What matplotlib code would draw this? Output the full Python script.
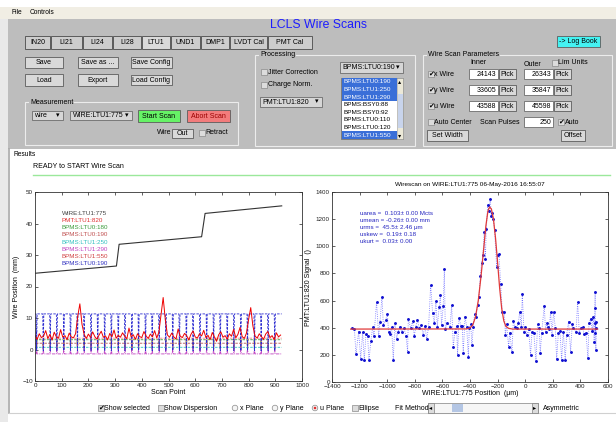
import numpy as np
import matplotlib.pyplot as plt
from matplotlib.patches import Rectangle, Circle

plt.rcParams['font.family'] = ['Liberation Sans', 'DejaVu Sans']

W, H = 616, 422
PANEL = '#bdbdbd'

# ---------------- data ----------------
# left plot: wire position (breakpoints of the staircase)
wire_x = [0, 305, 315, 624, 637, 924]
wire_y = [24.2, 26.5, 33.4, 35.8, 43.2, 45.6]

# PMT:LTU1:820 sampled every 8 scan points
pmt_y = [4.5, 3.2, 5.0, 3.8, 4.2, 6.0, 3.5, 4.8, 3.0, 5.5,
         4.0, 3.6, 6.3, 3.9, 4.4, 3.1, 5.2, 4.0, 3.7, 5.0,
         10.5, 14.5, 8.0, 4.8, 3.5, 4.9, 3.8, 5.6, 4.1, 3.3,
         4.6, 5.8, 3.9, 4.3, 3.0, 5.1, 4.0, 6.2, 3.6, 4.5,
         3.9, 5.3, 4.2, 3.4, 6.8, 4.0, 4.7, 3.2, 5.0, 4.1,
         3.8, 5.7, 4.3, 3.5, 4.9, 4.0, 6.0, 3.7, 5.5, 11.0,
         16.5, 9.5, 4.6, 3.9, 5.2, 4.0, 3.3, 6.5, 4.2, 3.8,
         5.1, 4.4, 3.0, 4.8, 5.9, 4.0, 3.6, 5.0, 4.3, 6.1,
         3.8, 4.5, 3.1, 5.4, 4.0, 2.6, 4.7, 5.6, 3.9, 4.4,
         3.3, 5.0, 4.2, 6.4, 3.7, 4.8, 7.0, 4.1, 3.5, 5.2,
         9.5, 13.3, 7.5, 4.3, 3.6, 5.0, 4.1, 3.2, 4.9, 5.7,
         3.8, 4.4, 3.1, 5.3, 4.0, 4.6]
pmt_step = 8

# scan points where the BPMs drop out
scan_dips = [6, 31, 57, 82, 108, 133, 159, 184, 210, 235, 261, 286, 312, 337,
             363, 388, 414, 439, 465, 490, 516, 541, 567, 592, 618, 643, 669,
             694, 720, 745, 771, 796, 822, 847, 873, 898]

bpm_labels = ['BPMS:LTU0:180', 'BPMS:LTU0:190', 'BPMS:LTU1:250',
              'BPMS:LTU1:290', 'BPMS:LTU1:550', 'BPMS:LTU0:190']
bpm_base = [3.1, 2.0, 0.7, -1.4, 3.6, 11.3]
bpm_low = [0.6, 0.2, 0.0, 0.8, 0.5, -0.4]

# right plot: PMT signal vs wire position
scan_pos = [-1258, -1238, -1226, -1207, -1192, -1178, -1166, -1154, -1142, -1132,
            -1118, -1105, -1096, -1077, -1062, -1052, -1038, -1028, -1011, -999,
            -990, -980, -968, -956, -944, -932, -920, -908, -895, -879,
            -864, -852, -847, -830, -816, -804, -792, -782, -767, -755,
            -739, -726, -714, -700, -685, -671, -659, -647, -637, -623,
            -615, -606, -594, -586, -579, -565, -545, -533, -521, -509,
            -497, -490, -480, -466, -456, -449, -436, -424, -412, -405,
            -395, -386, -376, -367, -357, -345, -335, -325, -316, -306,
            -297, -289, -282, -272, -263, -253, -246, -239, -231, -222,
            -207, -198, -190, -178, -166, -151, -144, -135, -120, -111,
            -96, -86, -74, -62, -50, -40, -28, -21, -9, 0,
            12, 25, 39, 49, 63, 78, 90, 102, 109, 119,
            138, 148, 155, 165, 174, 184, 194, 206, 218, 228,
            240, 252, 264, 276, 290, 300, 314, 329, 341, 348,
            368, 380, 392, 401, 416, 426, 440, 455, 462, 474,
            486, 493, 500, 503, 505, 507, 508, 510, 512, 514]
pmt_signal = [396, 393, 204, 371, 172, 366, 162, 351, 339, 162,
              302, 408, 339, 590, 339, 445, 629, 420, 457, 501,
              371, 354, 408, 162, 432, 319, 371, 408, 369, 398,
              342, 224, 467, 396, 447, 342, 408, 457, 396, 420,
              349, 413, 314, 408, 715, 506, 432, 600, 408, 555,
              641, 418, 560, 830, 388, 437, 405, 565, 260, 371,
              413, 199, 474, 415, 415, 211, 482, 408, 187, 400,
              430, 270, 408, 501, 482, 565, 624, 784, 875, 934,
              1103, 904, 1125, 1307, 1263, 1351, 1226, 1243, 1201, 1120,
              850, 939, 941, 722, 518, 518, 346, 427, 260, 364,
              219, 450, 408, 396, 432, 518, 408, 649, 371, 403,
              346, 388, 199, 366, 359, 157, 425, 396, 211, 359,
              563, 371, 432, 403, 391, 518, 346, 518, 400, 167,
              359, 378, 162, 371, 162, 346, 445, 224, 427, 400,
              366, 587, 359, 396, 408, 354, 364, 174, 432, 467,
              378, 482, 297, 432, 543, 666, 359, 445, 236, 400]

fit_x = [-1265, -430, -400, -380, -360, -340, -320, -300, -285, -270, -258,
         -245, -230, -215, -200, -185, -170, -155, -140, -120, -90, 525]
fit_y = [390, 391, 398, 420, 480, 600, 780, 990, 1150, 1260, 1290,
         1275, 1200, 1060, 880, 690, 540, 450, 410, 395, 390, 390]

fit_stats = ['uarea =  0.103\u00b1 0.00 Mcts',
             'umean = -0.26\u00b1 0.00 mm',
             'urms =  45.5\u00b1 2.46 \u03bcm',
             'uskew =  0.19\u00b1 0.18',
             'ukurt =  0.03\u00b1 0.00']

tabs = ['IN20', 'LI21', 'LI24', 'LI28', 'LTU1', 'UND1', 'DMP1', 'LVDT Cal', 'PMT Cal']
list_items = ['BPMS:LTU0:190', 'BPMS:LTU1:250', 'BPMS:LTU1:290', 'BPMS:BSY0:88',
              'BPMS:BSY0:92', 'BPMS:LTU0:110', 'BPMS:LTU0:120', 'BPMS:LTU1:550']
list_selected = [True, True, True, False, False, False, False, True]
wire_names = ['x Wire', 'y Wire', 'u Wire']
inner_vals = ['24143', '33605', '43588']
outer_vals = ['26343', '35847', '45598']

# ---------------- GUI background ----------------
fig = plt.figure(figsize=(W / 100, H / 100), dpi=100)
bg = fig.add_axes([0, 0, 1, 1])
bg.set_xlim(0, W)
bg.set_ylim(H, 0)
bg.axis('off')


def box(x0, y0, x1, y1, fc, ec='none', lw=0.6, z=1):
    bg.add_patch(Rectangle((x0, y0), x1 - x0, y1 - y0, facecolor=fc,
                           edgecolor=ec, linewidth=lw, zorder=z))


def txt(x, y, s, size=5, color='black', ha='left', **kw):
    bg.text(x, y, s, fontsize=size, color=color, ha=ha, va='center', zorder=6, **kw)


def button(x0, y0, x1, y1, label, fc='#d9d9d9', color='black'):
    box(x0, y0, x1, y1, fc, '#5c5c5c', 0.6, 3)
    txt((x0 + x1) / 2, (y0 + y1) / 2, label, color=color, ha='center')


def check(x, y, label, on=False):
    box(x, y - 2.8, x + 5.6, y + 2.8, '#dcdcdc', '#8a8a8a', 0.5, 3)
    if on:
        txt(x + 2.8, y, '\u2714', size=5, ha='center')
    txt(x + 6.5, y, label)


def radio(x, y, label, on=False):
    bg.add_patch(Circle((x, y), 2.8, fc='#f4f4f4', ec='#8a8a8a', lw=0.5, zorder=3))
    if on:
        bg.add_patch(Circle((x, y), 1.3, fc='#e03030', ec='none', zorder=4))
    txt(x + 5, y, label)


def group(x0, y0, x1, y1, label, fc=PANEL):
    box(x0, y0, x1, y1, 'none', '#ececec', 0.8, 2)
    txt(x0 + 5, y0, label, bbox=dict(fc=fc, ec='none', pad=0.6))


def combo(x0, y0, x1, y1, label):
    box(x0, y0, x1, y1, '#d6d6d6', '#6c6c6c', 0.6, 3)
    txt(x0 + 2.5, (y0 + y1) / 2, label)
    txt(x1 - 5, (y0 + y1) / 2, '\u25be', ha='center')


def entry(x0, y0, x1, y1, value):
    box(x0, y0, x1, y1, 'white', '#6c6c6c', 0.6, 3)
    txt(x1 - 2, (y0 + y1) / 2, value, ha='right')


box(0, 0, W, H, 'white', z=0)
box(0, 7, W, 19, '#f1eee4')
txt(12, 13, 'File', 4.8)
txt(30, 13, 'Controls', 4.8)
box(0, 19, 8, H, '#e9e9e9')
box(8, 19, W, 149, PANEL)

txt(318, 25, 'LCLS Wire Scans', 8.8, color='#1c1cff', ha='center')

tab_edges = [25, 51, 83, 113, 142, 171, 201, 230, 268, 313]
for i, t in enumerate(tabs):
    box(tab_edges[i], 36, tab_edges[i + 1] - 1, 49,
        '#dadada' if t == 'LTU1' else '#cdcdcd', '#4a4a4a', 0.6, 3)
    txt((tab_edges[i] + tab_edges[i + 1] - 1) / 2, 42.5, t, ha='center')

button(557, 36, 600, 47, '-> Log Book', fc='#44f2f2')

button(25, 57, 63, 68, 'Save')
button(78, 57, 118, 68, 'Save as ...')
button(131, 57, 172, 68, 'Save Config')
button(25, 74, 63, 86, 'Load')
button(78, 74, 118, 86, 'Export')
button(131, 75, 172, 85, 'Load Config')

group(25, 102, 238, 145, 'Measurement')
combo(32, 111, 63, 120, 'wire')
combo(70, 111, 132, 120, 'WIRE:LTU1:775')
button(138, 110, 180, 122, 'Start Scan', fc='#66f266')
button(187, 110, 230, 122, 'Abort Scan', fc='#f27c7c', color='#9a0000')
txt(157, 133, 'Wire')
button(172, 129, 193, 138, 'Out')
check(199, 133, 'Retract')

group(255, 55, 415, 146, 'Processing')
check(261, 72, 'Jitter Correction')
check(261, 85, 'Charge Norm.')
combo(260, 97, 322, 107, 'PMT:LTU1:820')
combo(340, 62, 403, 73, 'BPMS:LTU0:190')
box(341, 78, 403, 139, 'white', '#6c6c6c', 0.6, 3)
row_h = (139 - 78) / len(list_items)
for i, (item, sel) in enumerate(zip(list_items, list_selected)):
    y0 = 78 + i * row_h
    if sel:
        box(342, y0, 397, y0 + row_h, '#3a6fd8', z=4)
    txt(343, y0 + row_h / 2, item, 4.6, color='white' if sel else 'black')
box(397, 78, 403, 139, '#ece9d8', '#9a9a9a', 0.4, 5)
box(397.5, 94, 402.5, 128, '#c8d4ec', 'none', z=5)
txt(400, 81.5, '\u25b4', 4.5, ha='center')
txt(400, 135.5, '\u25be', 4.5, ha='center')

group(423, 55, 612, 146, 'Wire Scan Parameters')
txt(470, 63, 'Inner')
txt(524, 64.5, 'Outer')
check(552, 63, 'Lim Units')
for name, vin, vout, y in zip(wire_names, inner_vals, outer_vals, [74, 90, 106]):
    check(428, y, name, True)
    entry(469, y - 5, 498, y + 5, vin)
    button(499, y - 5, 516, y + 5, 'Pick')
    entry(524, y - 5, 553, y + 5, vout)
    button(554, y - 5, 571, y + 5, 'Pick')
check(428, 122, 'Auto Center')
txt(480, 122, 'Scan Pulses')
entry(524, 117, 553, 127, '250')
check(558, 122, 'Auto', True)
button(427, 130, 468, 141, 'Set Width')
button(561, 130, 585, 141, 'Offset')

# results area
box(8, 149, W, 413, 'white', z=0.5)
bg.plot([9, 9], [149, 413], color='#a8a8a8', lw=1.2, zorder=2)
bg.plot([9, W], [413, 413], color='#d0d0d0', lw=0.8, zorder=2)
txt(13, 154, 'Results', 4.8, bbox=dict(fc='white', ec='none', pad=0.4))
txt(33, 167, 'READY to START Wire Scan', 5)
bg.plot([33, 610], [175, 175], color='#9be89b', lw=1.0, zorder=2)

check(98, 408, 'Show selected', True)
check(158, 408, 'Show Dispersion')
radio(235, 408, 'x Plane')
radio(275, 408, 'y Plane')
radio(315, 408, 'u Plane', True)
check(352, 408, 'Ellipse')
txt(395, 408, 'Fit Method')
box(428, 403, 538, 413, '#f6f6f6', '#808080', 0.5, 3)
box(428, 403, 434, 413, '#dcdcdc', '#808080', 0.5, 4)
box(532, 403, 538, 413, '#dcdcdc', '#808080', 0.5, 4)
txt(431, 408, '\u25c2', 4.5, ha='center')
txt(535, 408, '\u25b8', 4.5, ha='center')
box(452, 404, 463, 412, '#b4c6e4', 'none', z=4)
txt(543, 408, 'Asymmetric')


# ---------------- plots ----------------
def style(ax):
    ax.tick_params(direction='in', top=True, right=True, labelsize=4.5,
                   length=2.2, width=0.5, pad=1.5, colors='#222222')
    for s in ax.spines.values():
        s.set_linewidth(0.6)
        s.set_color('#333333')


def dip_trace(base, low):
    xs, ys = [0], [base]
    for d in scan_dips:
        xs += [d - 2, d, d + 2]
        ys += [base, low, base]
    xs.append(wire_x[-1])
    ys.append(base)
    return xs, ys


axL = fig.add_axes([35 / W, 1 - 381 / H, 267 / W, 189 / H])
style(axL)
bpm_colors = ['#3a9a3a', '#b05050', '#30c0c0', '#c040c0', '#f08080', '#2a2ad0']
bpm_ls = ['--', '--', '--', '-.', '--', '--']
for base, low, c, ls in zip(bpm_base, bpm_low, bpm_colors, bpm_ls):
    xs, ys = dip_trace(base, low)
    axL.plot(xs, ys, ls=ls, color=c, lw=0.6, dashes=(3, 1.5) if ls == '--' else (4, 1.2, 1, 1.2))
pmt_x = np.arange(len(pmt_y)) * pmt_step
axL.plot(pmt_x, pmt_y, color='#ee0000', lw=0.7)
axL.plot(wire_x, wire_y, color='#333333', lw=0.8)
axL.set_xlim(0, 1000)
axL.set_ylim(-10, 50)
axL.set_xticks(range(0, 1001, 100))
axL.set_yticks(range(-10, 51, 10))
axL.set_xlabel('Scan Point', fontsize=5, labelpad=1)
axL.set_ylabel('Wire Position  (mm)', fontsize=5, labelpad=2)

legend_names = ['WIRE:LTU1:775', 'PMT:LTU1:820'] + bpm_labels
legend_colors = ['#404040', '#e03030', '#3a9a3a', '#c05050', '#30c0c0',
                 '#c040c0', '#d04040', '#3030c0']
for i, (n, c) in enumerate(zip(legend_names, legend_colors)):
    axL.text(100, 43.2 - i * 2.28, n, color=c, fontsize=4.5, va='center')

axR = fig.add_axes([332 / W, 1 - 382 / H, 276 / W, 190 / H])
style(axR)
axR.plot(scan_pos, pmt_signal, ls=':', color='#7070ff', lw=0.6)
axR.plot(scan_pos, pmt_signal, '.', color='#1010d0', ms=2.2)
axR.plot(fit_x, fit_y, color='#e03a3a', lw=0.9)
axR.set_xlim(-1400, 600)
axR.set_ylim(0, 1400)
axR.set_xticks(range(-1400, 601, 200))
axR.set_yticks(range(0, 1401, 200))
axR.set_xlabel('WIRE:LTU1:775 Position  (\u03bcm)', fontsize=5, labelpad=1)
axR.set_ylabel('PMT:LTU1:820 Signal  ()', fontsize=5, labelpad=3)
axR.set_title('Wirescan on WIRE:LTU1:775 06-May-2016 16:55:07', fontsize=4.6, pad=4)
for i, s in enumerate(fit_stats):
    axR.text(-1200, 1243 - i * 52, s, color='#2626c0', fontsize=4.5, va='center')

fig.savefig('out.png', dpi=100)
